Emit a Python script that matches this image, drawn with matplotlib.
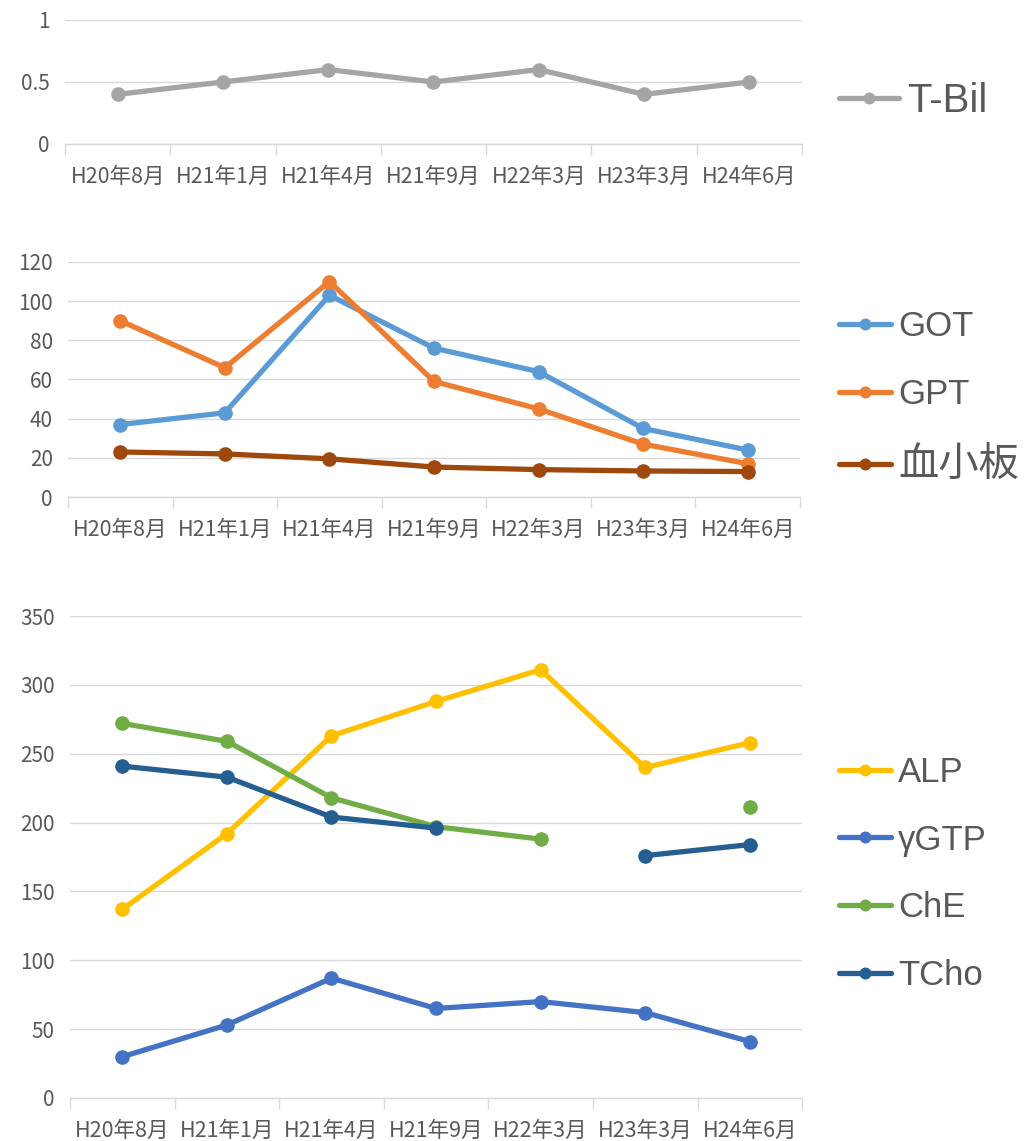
import numpy as np
import matplotlib
matplotlib.use("Agg")
import matplotlib.pyplot as plt
from matplotlib.ticker import FixedLocator, FuncFormatter

plt.rcParams['font.family'] = ['Noto Sans CJK JP', 'DejaVu Sans']

categories = ["H20年8月", "H21年1月", "H21年4月", "H21年9月", "H22年3月", "H23年3月", "H24年6月"]

t_bil = [0.4, 0.5, 0.6, 0.5, 0.6, 0.4, 0.5]

got = [37, 43, 103, 76, 64, 35, 24]
gpt = [90, 66, 110, 59, 45, 27, 17]
platelets = [23, 22, 19.5, 15.3, 14, 13.3, 13]

alp = [137, 192, 263, 288, 311, 240, 258]
ggtp = [30, 53, 87, 65, 70, 62, 41]
che = [272, 259, 218, 197, 188, np.nan, 211]
tcho = [241, 233, 204, 196, np.nan, 176, 184]

GRID = "#d9d9d9"
TEXT = "#595959"
LEGEND_FONT = ['Liberation Sans', 'Noto Sans CJK JP']

fig = plt.figure(figsize=(10.27, 11.41), dpi=100)


def style_axes(ax, ylim, yticks, fmt=None):
    x = np.arange(len(categories))
    ax.set_xlim(-0.5, len(categories) - 0.5)
    ax.set_ylim(*ylim)
    ax.set_yticks(yticks)
    if fmt:
        ax.yaxis.set_major_formatter(FuncFormatter(fmt))
    ax.set_xticks(x)
    ax.set_xticklabels(categories)
    ax.xaxis.set_minor_locator(FixedLocator(np.arange(-0.5, len(categories), 1.0)))
    ax.tick_params(axis='x', which='major', length=0, pad=15.5, labelsize=15.5, labelcolor=TEXT)
    ax.tick_params(axis='x', which='minor', length=8, width=1, color=GRID, direction='out')
    ax.tick_params(axis='y', length=0, pad=11, labelsize=15, labelcolor=TEXT)
    for s in ['top', 'right', 'left']:
        ax.spines[s].set_visible(False)
    ax.spines['bottom'].set_color(GRID)
    ax.spines['bottom'].set_linewidth(1)
    ax.grid(axis='y', color=GRID, linewidth=1)
    ax.set_axisbelow(True)
    ax.set_facecolor('none')


def plot_series(ax, values, color, label):
    x = np.arange(len(categories))
    ax.plot(x, values, color=color, linewidth=3.8, marker='o', markersize=9.5,
            solid_capstyle='round', label=label, clip_on=False)


def add_legend(ax, y_center, size=25, sizes=None):
    leg = ax.legend(loc='center left', bbox_to_anchor=(0.817, y_center),
                    bbox_transform=fig.transFigure, frameon=False,
                    prop={'family': LEGEND_FONT, 'size': size},
                    handlelength=1.5, handletextpad=0.2, labelspacing=1.0,
                    borderaxespad=0, borderpad=0, markerscale=0.8)
    for i, t in enumerate(leg.get_texts()):
        t.set_color(TEXT)
        if sizes and sizes[i]:
            t.set_fontsize(sizes[i])
    return leg


# Panel 1: T-Bil
ax1 = fig.add_axes([0.0633, 0.8738, 0.7176, 0.1087])
style_axes(ax1, (0, 1), [0, 0.5, 1], fmt=lambda v, p: f"{v:g}")
plot_series(ax1, t_bil, "#a5a5a5", "T-Bil")
add_legend(ax1, 1 - 101 / 1141, size=29)

# Panel 2: GOT / GPT / platelets
ax2 = fig.add_axes([0.0662, 0.5644, 0.7128, 0.2060])
style_axes(ax2, (0, 120), np.arange(0, 121, 20))
plot_series(ax2, got, "#5b9bd5", "GOT")
plot_series(ax2, gpt, "#ed7d31", "GPT")
plot_series(ax2, platelets, "#9e480e", "血小板")
add_legend(ax2, 1 - 397 / 1141, sizes=[None, None, 29])

# Panel 3: ALP / γGTP / ChE / TCho
ax3 = fig.add_axes([0.0682, 0.0377, 0.7128, 0.4224])
style_axes(ax3, (0, 350), np.arange(0, 351, 50))
plot_series(ax3, alp, "#ffc000", "ALP")
plot_series(ax3, ggtp, "#4472c4", "γGTP")
plot_series(ax3, che, "#70ad47", "ChE")
plot_series(ax3, tcho, "#255e91", "TCho")
add_legend(ax3, 1 - 874 / 1141)

fig.savefig("out.png", dpi=100, facecolor="white")
